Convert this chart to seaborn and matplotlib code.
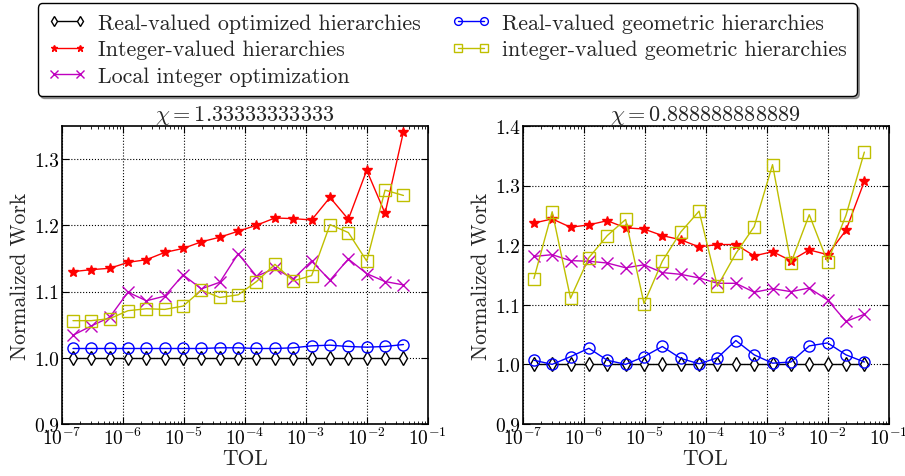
import numpy as np
import pandas as pd
import matplotlib
matplotlib.use("Agg")
import matplotlib.pyplot as plt
from matplotlib.ticker import FuncFormatter, LogLocator
import seaborn as sns

# ---------------- data ----------------
tol = [1.53e-7, 3.05e-7, 6.1e-7, 1.22e-6, 2.44e-6, 4.88e-6, 9.77e-6, 1.95e-5,
       3.91e-5, 7.81e-5, 1.56e-4, 3.13e-4, 6.25e-4, 1.25e-3, 2.5e-3, 5e-3,
       1e-2, 2e-2, 4e-2]

# chi = 1.333...
left_real_opt = [1.0] * 19
left_integer = [1.130, 1.133, 1.135, 1.144, 1.148, 1.159, 1.165, 1.175, 1.182, 1.191,
                1.200, 1.211, 1.210, 1.208, 1.242, 1.209, 1.283, 1.218, 1.341]
left_local = [1.034, 1.048, 1.061, 1.099, 1.086, 1.093, 1.125, 1.104, 1.114, 1.157,
              1.123, 1.135, 1.119, 1.146, 1.117, 1.149, 1.127, 1.115, 1.110]
left_real_geo = [1.014, 1.014, 1.014, 1.014, 1.014, 1.014, 1.014, 1.014, 1.015, 1.015,
                 1.014, 1.014, 1.015, 1.018, 1.019, 1.017, 1.016, 1.017, 1.020]
left_int_geo = [1.056, 1.056, 1.059, 1.071, 1.074, 1.073, 1.078, 1.102, 1.091, 1.095,
                1.115, 1.141, 1.116, 1.124, 1.201, 1.189, 1.146, 1.253, 1.245]

# chi = 0.888...
right_real_opt = [1.0] * 19
right_integer = [1.237, 1.244, 1.230, 1.234, 1.241, 1.229, 1.227, 1.216, 1.209, 1.197,
                 1.201, 1.201, 1.182, 1.189, 1.174, 1.192, 1.184, 1.225, 1.307]
right_local = [1.181, 1.184, 1.174, 1.173, 1.170, 1.162, 1.167, 1.154, 1.151, 1.145,
               1.136, 1.136, 1.121, 1.127, 1.122, 1.128, 1.108, 1.072, 1.084]
right_real_geo = [1.007, 1.000, 1.013, 1.027, 1.007, 1.000, 1.013, 1.030, 1.010, 1.001,
                  1.011, 1.040, 1.016, 1.002, 1.004, 1.031, 1.036, 1.016, 1.004]
right_int_geo = [1.144, 1.256, 1.111, 1.179, 1.216, 1.243, 1.102, 1.173, 1.222, 1.257,
                 1.131, 1.186, 1.231, 1.335, 1.170, 1.251, 1.172, 1.250, 1.356]

series_labels = ["Real-valued optimized hierarchies", "Integer-valued hierarchies",
                 "Local integer optimization", "Real-valued geometric hierarchies",
                 "integer-valued geometric hierarchies"]
titles = [r"$\chi = 1.33333333333$", r"$\chi = 0.888888888889$"]
ylims = [(0.9, 1.35), (0.9, 1.4)]
xlabel = "TOL"
ylabel = "Normalized Work"

# ---------------- style ----------------
sns.set_style("ticks")
plt.rcParams.update({
    "font.family": ["cmr10", "DejaVu Serif"],
    "mathtext.fontset": "cm",
    "axes.unicode_minus": False,
    "axes.formatter.use_mathtext": True,
    "xtick.direction": "in",
    "ytick.direction": "in",
    "xtick.top": True,
    "ytick.right": True,
    "axes.edgecolor": "black",
    "axes.linewidth": 1.2,
    "xtick.color": "black",
    "ytick.color": "black",
})

styles = [
    dict(color="k", marker="d", markerfacecolor="white", markeredgecolor="k", markersize=7),
    dict(color="r", marker="*", markerfacecolor="r", markeredgecolor="r", markersize=7),
    dict(color="m", marker="x", markerfacecolor="none", markeredgecolor="m", markersize=8),
    dict(color="b", marker="o", markerfacecolor="none", markeredgecolor="b", markersize=8),
    dict(color="y", marker="s", markerfacecolor="none", markeredgecolor="y", markersize=8),
]

fig = plt.figure(figsize=(9.05, 4.77), dpi=100)
ax1 = fig.add_axes([0.0682, 0.109, 0.4044, 0.625])
ax2 = fig.add_axes([0.5775, 0.109, 0.4044, 0.625])

panels = [
    (ax1, [left_real_opt, left_integer, left_local, left_real_geo, left_int_geo]),
    (ax2, [right_real_opt, right_integer, right_local, right_real_geo, right_int_geo]),
]

for i, (ax, data) in enumerate(panels):
    ax.set_xscale("log")
    for vals, lab, st in zip(data, series_labels, styles):
        sns.lineplot(x=tol, y=vals, ax=ax, label=lab, linewidth=1.0,
                     markeredgewidth=1.0, legend=False, **st)
    ax.set_xlim(1e-7, 1e-1)
    ax.set_ylim(*ylims[i])
    ax.set_yticks(np.arange(0.9, ylims[i][1] + 0.001, 0.1))
    ax.yaxis.set_major_formatter(FuncFormatter(lambda v, p: "%.1f" % v))
    ax.xaxis.set_major_locator(LogLocator(base=10, numticks=10))
    ax.xaxis.set_minor_locator(LogLocator(base=10, subs=np.arange(2, 10), numticks=20))
    ax.grid(True, which="major", color="k", linestyle=":", linewidth=0.8)
    ax.tick_params(which="major", length=5, width=0.8, labelsize=14, pad=2)
    ax.tick_params(which="minor", length=2.5, width=0.6)
    ax.set_title(titles[i], fontsize=16, pad=2)
    ax.set_xlabel(xlabel, fontsize=15.5, labelpad=0)
    ax.set_ylabel(ylabel, fontsize=15.5, labelpad=3)

handles, labels = ax1.get_legend_handles_labels()
fig.legend(handles, labels, loc="upper center", bbox_to_anchor=(0.494, 1.0), ncol=2,
           fontsize=15.8, frameon=True, fancybox=True, shadow=True, edgecolor="k",
           framealpha=1.0, handlelength=1.8, columnspacing=1.4, borderpad=0.45,
           labelspacing=0.32, numpoints=2, markerscale=0.7, handletextpad=0.5,
           borderaxespad=0.2)

fig.savefig("out.png", dpi=100)
